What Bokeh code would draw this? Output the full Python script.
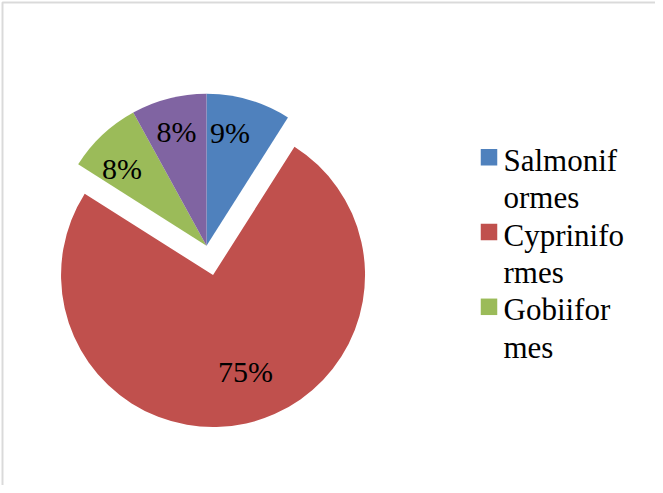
import numpy as np
from bokeh.plotting import figure
from bokeh.models import ColumnDataSource, Range1d, BoxAnnotation
from bokeh.core.properties import value
from bokeh.embed import file_html
from bokeh.resources import INLINE

# ---- data ----
categories = ["Salmoniformes", "Cypriniformes", "Gobiiformes", "Other"]
legend_labels = ["Salmonif\normes", "Cyprinifo\nrmes", "Gobiifor\nmes"]
shares = [9, 75, 8, 8]
pct_labels = ["9%", "75%", "8%", "8%"]
colors = ["#4F81BD", "#C0504D", "#9BBB59", "#8064A2"]

# ---- layout / style ----
explode = [0, 30, 0, 0]
label_frac = [0.76, 0.67, 0.755, 0.775]
label_nudge_deg = [4.5, 6.0, 4.3, 0.3]

W, H = 655, 485
CX, CY, R = 206, 239.7, 152
FONT = "Liberation Serif"

frac = np.array(shares, dtype=float) / sum(shares)
cum = np.cumsum(frac)
start = np.concatenate([[0.0], cum[:-1]])
start_angle = np.pi / 2 - 2 * np.pi * start
end_angle = np.pi / 2 - 2 * np.pi * cum
mid = (start_angle + end_angle) / 2
ex = np.array(explode, dtype=float)
xs = CX + ex * np.cos(mid)
ys = CY + ex * np.sin(mid)
la = mid + np.radians(label_nudge_deg)
lr = np.array(label_frac) * R
lx = xs + lr * np.cos(la)
ly = ys + lr * np.sin(la)

src = ColumnDataSource(dict(cat=categories, x=xs, y=ys, sa=start_angle, ea=end_angle,
                            color=colors, lx=lx, ly=ly, pct=pct_labels))

p = figure(width=W, height=H, x_range=Range1d(0, W), y_range=Range1d(0, H),
           output_backend="svg", toolbar_location=None, min_border=0,
           x_axis_type=None, y_axis_type=None)
p.grid.visible = False
p.outline_line_color = None
p.background_fill_color = "white"

# chart-area border (right and bottom edges fall outside the window)
p.add_layout(BoxAnnotation(left=2, top=H - 2, right=W + 60, bottom=-60,
                           fill_alpha=0, line_color="#858585", line_width=2))

p.wedge(x="x", y="y", radius=R, start_angle="sa", end_angle="ea", direction="clock",
        fill_color="color", line_color=None, source=src)

p.text(x="lx", y="ly", text="pct", source=src, text_align="center", text_baseline="middle",
       text_font=value(FONT), text_font_size="30px", text_color="black")

# legend (entries wrap onto two lines, as in the original)
LEG_SQ_X, LEG_TXT_X = 488.5, 503
LEG_FS = 31
FIRST_BASE = 493 - 178.3
LINE_STEP = 37.4
SQ_ABOVE_BASE = 13.6
MID_ABOVE_BASE = 0.3375 * LEG_FS
n = len(legend_labels)
sq_y = [FIRST_BASE - 2 * i * LINE_STEP + SQ_ABOVE_BASE for i in range(n)]
p.scatter(x=[LEG_SQ_X] * n, y=sq_y, marker="square", size=16.5,
          fill_color=colors[:n], line_color=None)

line_txt, line_y = [], []
for i, lab in enumerate(legend_labels):
    for j, part in enumerate(lab.split("\n")):
        line_txt.append(part)
        line_y.append(FIRST_BASE - (2 * i + j) * LINE_STEP + MID_ABOVE_BASE)
p.text(x=[LEG_TXT_X] * len(line_txt), y=line_y, text=line_txt, text_align="left",
       text_baseline="middle", text_font=value(FONT), text_font_size=f"{LEG_FS}px",
       text_color="black")

open("out.html", "w").write(file_html(p, INLINE))
